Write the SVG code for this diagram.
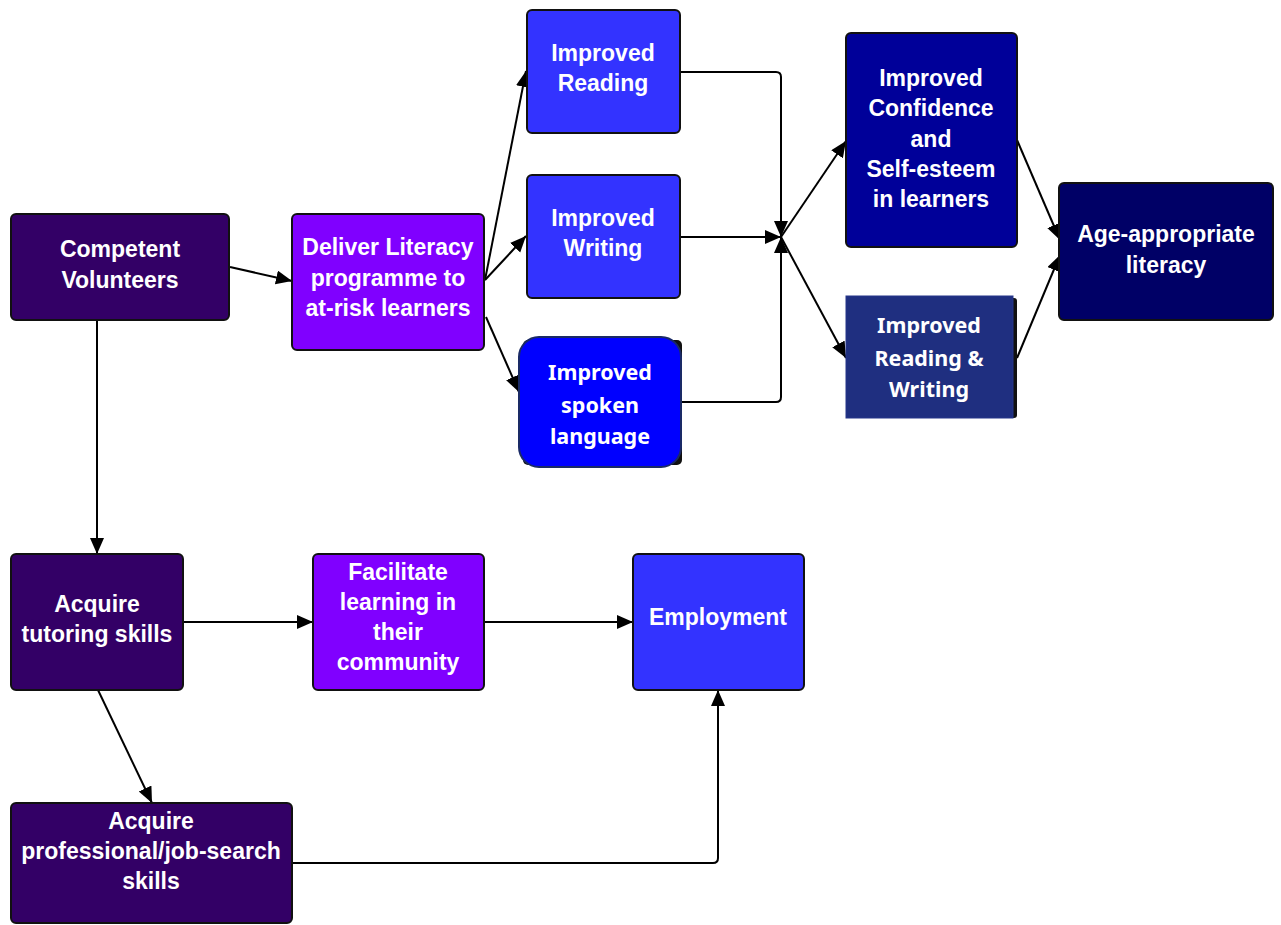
<svg xmlns="http://www.w3.org/2000/svg" width="1281" height="925" viewBox="0 0 1281 925">
<style>
.n{stroke:#111;stroke-width:2}
.t{font-family:"Liberation Sans",Arial,sans-serif;font-weight:bold;font-size:23px;fill:#fff;text-anchor:middle}
.c{font-family:"Noto Sans","Open Sans",sans-serif;font-weight:bold;font-size:21.5px;fill:#fff;text-anchor:middle}
.e{fill:none;stroke:#000;stroke-width:2;marker-end:url(#a)}
</style>
<defs>
<marker id="a" markerUnits="userSpaceOnUse" markerWidth="17" markerHeight="15" refX="16" refY="7" orient="auto"><path d="M0,0 L16,7 L0,14 z" fill="#000"/></marker>
</defs>
<rect width="1281" height="925" fill="#fff"/>
<g id="connectors">
<path class="e" d="M230,267 L292,281"/>
<path class="e" d="M485,280 L526,71"/>
<path class="e" d="M485,280 L526,236"/>
<path class="e" d="M486,317 L519,392"/>
<path class="e" d="M680,72 L776,72 Q781,72 781,77 L781,237"/>
<path class="e" d="M680,237 L781,237"/>
<path class="e" d="M682,402 L776,402 Q781,402 781,397 L781,237"/>
<path class="e" d="M781,237 L846,141"/>
<path class="e" d="M781,237 L846,358"/>
<path class="e" d="M1017,140 L1060,240"/>
<path class="e" d="M1017,358 L1060,255"/>
<path class="e" d="M97,320 L97,554"/>
<path class="e" d="M183,622 L313,622"/>
<path class="e" d="M484,622 L633,622"/>
<path class="e" d="M98,690 L152,803"/>
<path class="e" d="M292,863 L713,863 Q718,863 718,858 L718,690"/>
</g>
<g id="n1"><rect class="n" x="11" y="214" width="218" height="106" rx="5" fill="#330066"/>
<text class="t" x="120" y="257">Competent</text><text class="t" x="120" y="288">Volunteers</text></g>
<g id="n2"><rect class="n" x="292" y="214" width="192" height="136" rx="5" fill="#8000ff"/>
<text class="t" x="388" y="255">Deliver Literacy</text><text class="t" x="388" y="286">programme to</text><text class="t" x="388" y="316">at-risk learners</text></g>
<g id="n3"><rect class="n" x="527" y="10" width="153" height="123" rx="5" fill="#3333ff"/>
<text class="t" x="603" y="61">Improved</text><text class="t" x="603" y="91">Reading</text></g>
<g id="n4"><rect class="n" x="527" y="175" width="153" height="123" rx="5" fill="#3333ff"/>
<text class="t" x="603" y="226">Improved</text><text class="t" x="603" y="256">Writing</text></g>
<g id="n5"><rect x="523" y="340" width="159" height="125" rx="5" fill="#111"/>
<rect x="519" y="337" width="162" height="130" rx="20" fill="#0000ff" stroke="#1a2a66" stroke-width="2"/>
<text class="c" x="600" y="380">Improved</text><text class="c" x="600" y="413">spoken</text><text class="c" x="600" y="444">language</text></g>
<g id="n6"><rect class="n" x="846" y="33" width="171" height="214" rx="5" fill="#000099"/>
<text class="t" x="931" y="86">Improved</text><text class="t" x="931" y="116">Confidence</text><text class="t" x="931" y="147">and</text><text class="t" x="931" y="177">Self-esteem</text><text class="t" x="931" y="207">in learners</text></g>
<g id="n7"><rect x="849" y="298" width="168" height="120" rx="3" fill="#111"/>
<rect x="846" y="296" width="167" height="122" fill="#1f2f80" stroke="#27378a" stroke-width="1"/>
<text class="c" x="929" y="333">Improved</text><text class="c" x="929" y="366">Reading &amp;</text><text class="c" x="929" y="397">Writing</text></g>
<g id="n8"><rect class="n" x="1059" y="183" width="214" height="137" rx="5" fill="#000066"/>
<text class="t" x="1166" y="242">Age-appropriate</text><text class="t" x="1166" y="273">literacy</text></g>
<g id="n9"><rect class="n" x="11" y="554" width="172" height="136" rx="5" fill="#330066"/>
<text class="t" x="97" y="612">Acquire</text><text class="t" x="97" y="642">tutoring skills</text></g>
<g id="n10"><rect class="n" x="313" y="554" width="171" height="136" rx="5" fill="#8000ff"/>
<text class="t" x="398" y="580">Facilitate</text><text class="t" x="398" y="610">learning in</text><text class="t" x="398" y="640">their</text><text class="t" x="398" y="670">community</text></g>
<g id="n11"><rect class="n" x="633" y="554" width="171" height="136" rx="5" fill="#3333ff"/>
<text class="t" x="718" y="625">Employment</text></g>
<g id="n12"><rect class="n" x="11" y="803" width="281" height="120" rx="5" fill="#330066"/>
<text class="t" x="151" y="829">Acquire</text><text class="t" x="151" y="859">professional/job-search</text><text class="t" x="151" y="889">skills</text></g>
</svg>
